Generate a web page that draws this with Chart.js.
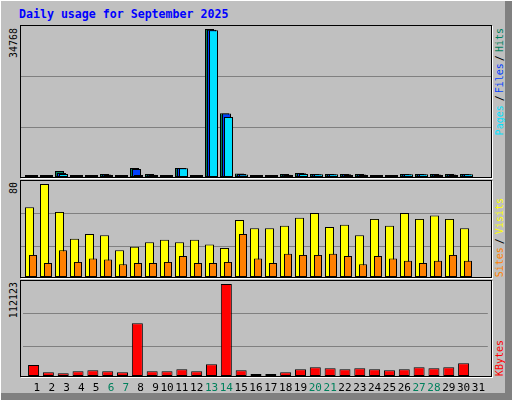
<!DOCTYPE html>
<html>
<head>
<meta charset="utf-8">
<script src="https://cdn.jsdelivr.net/npm/chart.js@4.4.1/dist/chart.umd.min.js"></script>
<style>
  html, body { margin: 0; padding: 0; background: #c0c0c0; }
  #frame { position: relative; width: 512px; height: 400px; background: #c0c0c0; overflow: hidden; }
  .hl { position: absolute; background: #fff; }
  .sh { position: absolute; background: #808080; }
  .panel { position: absolute; box-sizing: border-box; border: 1px solid #000; box-shadow: 1px 1px 0 #fff; }
  canvas { position: absolute; }
  .title { position: absolute; left: 19px; top: 8px; font: bold 11.6px/13px "DejaVu Sans Mono", monospace; color: #0000ff; white-space: nowrap; }
  .up { position: absolute; transform-origin: 0 0; transform: rotate(-90deg); width: 160px; text-align: right;
        font: 10px/10px "DejaVu Sans Mono", monospace; white-space: pre; }
  .up .sl { color: #000; }
</style>
</head>
<body>
<div id="frame">
  <div class="hl" style="left:0;top:0;width:512px;height:1px"></div>
  <div class="hl" style="left:0;top:0;width:1px;height:400px"></div>
  <div class="sh" style="left:505px;top:1px;width:7px;height:399px"></div>
  <div class="sh" style="left:1px;top:393px;width:511px;height:7px"></div>

  <div class="title">Daily usage for September 2025</div>

  <div class="panel" style="left:20px;top:25px;width:472px;height:153px"></div>
  <div class="panel" style="left:20px;top:180px;width:472px;height:98px"></div>
  <div class="panel" style="left:20px;top:280px;width:472px;height:97px"></div>

  <canvas id="cTop" width="470" height="151" style="left:21px;top:26px"></canvas>
  <canvas id="cMid" width="470" height="96" style="left:21px;top:181px"></canvas>
  <canvas id="cBot" width="470" height="116" style="left:21px;top:281px"></canvas>

  <div class="up" style="left:9px;top:188px">34768</div>
  <div class="up" style="left:9px;top:342px">80</div>
  <div class="up" style="left:9px;top:442px">112123</div>

  <div class="up" style="left:495px;top:188px"><span style="color:#00e0ff">Pages</span><span class="sl" style="margin:0 2px 0 4px">/</span><span style="color:#0040ff">Files</span><span class="sl" style="margin:0 3px 0 2px">/</span><span style="color:#00805c">Hits</span></div>
  <div class="up" style="left:495px;top:358px"><span style="color:#ff8000">Sites</span><span class="sl" style="margin:0 4px 0 3px">/</span><span style="color:#ffff00">Visits</span></div>
  <div class="up" style="left:495px;top:500px"><span style="color:#ff0000">KBytes</span></div>
</div>

<script>
// days of September 2025 (day 31 shown on the axis, no data)
const days = [1, 2, 3, 4, 5, 6, 7, 8, 9, 10, 11, 12, 13, 14, 15, 16, 17, 18, 19, 20, 21, 22, 23, 24, 25, 26, 27, 28, 29, 30, 31];
const weekendDays = [6, 7, 13, 14, 20, 21, 27, 28];

const hits   = [100, 100, 1400, 100, 100, 700, 100, 2100, 700, 100, 2100, 100, 34768, 14960, 800, 100, 100, 700, 950, 700, 700, 700, 700, 100, 100, 700, 700, 700, 700, 700, null];
const files  = [80, 80, 950, 80, 80, 600, 80, 1880, 500, 80, 2100, 80, 34600, 14900, 700, 80, 80, 500, 900, 650, 650, 650, 600, 80, 80, 650, 650, 600, 600, 650, null];
const pages  = [50, 50, 700, 50, 50, 100, 50, 100, 100, 50, 2050, 50, 34500, 14090, 600, 50, 50, 100, 700, 650, 650, 100, 100, 50, 50, 650, 650, 100, 100, 650, null];

const visits = [60, 80, 56, 33, 37, 36, 23, 26, 30, 32, 30, 32, 28, 25, 49, 42, 42, 44, 51, 55, 43, 45, 36, 50, 44, 55, 50, 53, 50, 42, null];
const sites  = [19, 12, 23, 13, 16, 15, 11, 12, 12, 13, 18, 12, 12, 13, 37, 16, 12, 20, 19, 19, 20, 18, 11, 18, 16, 14, 12, 14, 19, 14, null];

const kbytes = [13400, 4500, 3300, 5700, 6950, 5700, 4500, 64200, 5700, 5700, 8150, 5700, 14260, 112123, 6950, 1500, 1500, 4500, 8150, 10600, 9400, 8150, 9400, 8150, 6950, 8150, 10600, 9400, 10600, 15500, null];

const maxHits = 34768, maxVisits = 80, maxKbytes = 112123;

const colors = {
    hits: '#00805c', files: '#0040ff', pages: '#00e0ff',
    visits: '#ffff00', sites: '#ff8000', kbytes: '#ff0000'
};

const monoFont = 'DejaVu Sans Mono';
const pxPerDay = 15;

// linear x axis, shifted so each series sits at its own offset inside the day slot
function xAxis(min, show) {
    const ax = {
        type: 'linear',
        min: min,
        max: min + 470 / pxPerDay,
        offset: false,
        display: show,
        grid: { display: false, drawTicks: false },
        border: { display: false },
        afterBuildTicks: function (s) { s.ticks = days.map(function (d) { return { value: d }; }); }
    };
    if (show) {
        ax.afterFit = function (s) { s.height = 21; };
        ax.ticks = {
            autoSkip: false, maxRotation: 0, minRotation: 0, padding: 6,
            font: { family: monoFont, size: 11 },
            color: function (c) { return c.tick && weekendDays.indexOf(c.tick.value) >= 0 ? '#00805c' : '#000000'; },
            callback: function (v) { return (v < 10 ? ' ' : '') + v; }
        };
    }
    return ax;
}

function yAxis(max, lines) {
    return {
        min: 0, max: max,
        ticks: { display: false },
        border: { display: false },
        grid: { color: '#808080', lineWidth: 1, drawTicks: false },
        afterBuildTicks: function (s) { s.ticks = lines.map(function (v) { return { value: v }; }); }
    };
}

// order: higher number is painted first, so the last series ends up on top
function bars(values, color, axisId, width, order) {
    return {
        data: values, xAxisID: axisId, grouped: false, order: order,
        backgroundColor: color, borderColor: '#000000', borderWidth: 1,
        borderSkipped: false, inflateAmount: 0,
        barThickness: width, maxBarThickness: width, minBarLength: 2
    };
}

const common = {
    responsive: false, animation: false,
    layout: { padding: 0 },
    plugins: { legend: { display: false }, tooltip: { enabled: false } }
};

// hits / files / pages
const topMax = maxHits * 151 / 148;
new Chart(document.getElementById('cTop'), {
    type: 'bar',
    data: {
        labels: days,
        datasets: [
            bars(hits, colors.hits, 'x', 9, 3),
            bars(files, colors.files, 'x2', 9, 2),
            bars(pages, colors.pages, 'x3', 9, 1)
        ]
    },
    options: Object.assign({}, common, {
        scales: {
            x: xAxis(6.5 / pxPerDay, false),
            x2: xAxis(4.5 / pxPerDay, false),
            x3: xAxis(2.5 / pxPerDay, false),
            y: yAxis(topMax, [topMax * 49.5 / 151, topMax * 100.5 / 151])
        }
    })
});

// visits / sites
const midMax = maxVisits * 96 / 93;
new Chart(document.getElementById('cMid'), {
    type: 'bar',
    data: {
        labels: days,
        datasets: [
            bars(visits, colors.visits, 'x', 9, 2),
            bars(sites, colors.sites, 'x2', 8, 1)
        ]
    },
    options: Object.assign({}, common, {
        scales: {
            x: xAxis(6.5 / pxPerDay, false),
            x2: xAxis(3 / pxPerDay, false),
            y: yAxis(midMax, [midMax * 30.5 / 96, midMax * 63.5 / 96])
        }
    })
});

// kbytes
const botMax = maxKbytes * 95 / 92;
new Chart(document.getElementById('cBot'), {
    type: 'bar',
    data: {
        labels: days,
        datasets: [ bars(kbytes, colors.kbytes, 'x', 11, 1) ]
    },
    options: Object.assign({}, common, {
        scales: {
            x: xAxis(4.5 / pxPerDay, true),
            y: yAxis(botMax, [botMax * 29.5 / 95, botMax * 62.5 / 95])
        }
    })
});
</script>
</body>
</html>
